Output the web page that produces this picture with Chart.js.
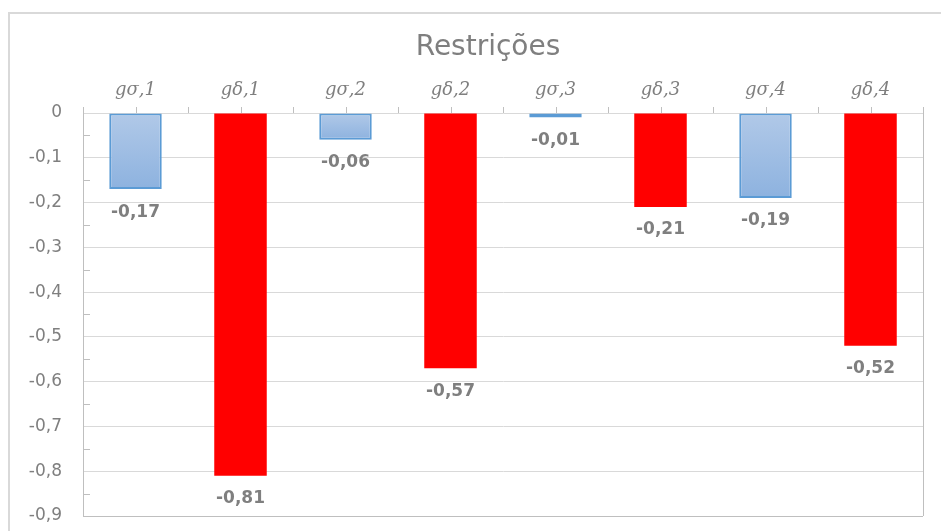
<!DOCTYPE html>
<html>
<head>
<meta charset="utf-8">
<title>Restrições</title>
<script src="https://cdn.jsdelivr.net/npm/chart.js@4"></script>
<style>
  html, body { margin: 0; padding: 0; background: #fff; }
  canvas { display: block; }
</style>
</head>
<body>
<canvas id="chart" width="941" height="531"></canvas>
<script>
// categories along the top axis
const categories = ['gσ,1', 'gδ,1', 'gσ,2', 'gδ,2', 'gσ,3', 'gδ,3', 'gσ,4', 'gδ,4'];
// σ restrictions (blue) and δ restrictions (red)
const sigmaValues = [-0.17, null, -0.06, null, -0.01, null, -0.19, null];
const deltaValues = [null, -0.81, null, -0.57, null, -0.21, null, -0.52];
const yMin = -0.9;
const yMax = 0;
const yStep = 0.1;
const chartTitle = 'Restrições';

const gray = '#7f7f7f';
const axisGray = '#bfbfbf';

const fmt = (v, d) => (v === 0 ? '0' : v.toFixed(d).replace('.', ','));

function blueFill(ctx) {
  const chart = ctx.chart;
  if (!chart.chartArea) return '#9fbfe4';
  const y = chart.scales.y;
  const v = ctx.raw == null ? 0 : ctx.raw;
  const y0 = y.getPixelForValue(0);
  const y1 = y.getPixelForValue(v);
  const g = chart.ctx.createLinearGradient(0, y0, 0, Math.max(y1, y0 + 1));
  g.addColorStop(0, '#b1c9e8');
  g.addColorStop(1, '#8db2df');
  return g;
}

// frame, title, axis tick marks, plot edges and value labels
const extras = {
  id: 'extras',
  beforeDraw(chart) {
    const c = chart.ctx;
    c.save();
    c.strokeStyle = '#d9d9d9';
    c.lineWidth = 2;
    c.strokeRect(9, 13, 960, 560);
    c.fillStyle = gray;
    c.font = '28px "DejaVu Sans"';
    c.textAlign = 'center';
    c.textBaseline = 'alphabetic';
    c.fillText(chartTitle, 488, 55);
    c.restore();
  },
  afterDraw(chart) {
    const c = chart.ctx;
    const area = chart.chartArea;
    const x = chart.scales.x;
    const y = chart.scales.y;
    c.save();
    c.strokeStyle = axisGray;
    c.lineWidth = 1;
    c.beginPath();
    // right and bottom edges
    c.moveTo(Math.round(area.right) + 0.5, area.top);
    c.lineTo(Math.round(area.right) + 0.5, area.bottom);
    c.moveTo(area.left, Math.round(area.bottom) + 0.5);
    c.lineTo(area.right, Math.round(area.bottom) + 0.5);
    // top axis ticks at boundaries and centres
    const half = (x.getPixelForValue(1) - x.getPixelForValue(0)) / 2;
    for (let i = 0; i <= categories.length * 2; i++) {
      const px = Math.round(x.getPixelForValue(0) - half + i * half) + 0.5;
      c.moveTo(px, area.top);
      c.lineTo(px, area.top - 6);
    }
    // minor ticks on the value axis
    for (let v = yMax - yStep / 2; v > yMin; v -= yStep) {
      const py = Math.round(y.getPixelForValue(v)) + 0.5;
      c.moveTo(area.left, py);
      c.lineTo(area.left + 7, py);
    }
    c.stroke();

    // value labels under each bar
    c.fillStyle = gray;
    c.font = 'bold 17px "DejaVu Sans"';
    c.textAlign = 'center';
    c.textBaseline = 'middle';
    chart.data.datasets.forEach((ds, di) => {
      const meta = chart.getDatasetMeta(di);
      meta.data.forEach((bar, i) => {
        const v = ds.data[i];
        if (v == null) return;
        c.fillText(fmt(v, 2), bar.x, bar.y + 23);
      });
    });
    c.restore();
  }
};

new Chart(document.getElementById('chart'), {
  type: 'bar',
  data: {
    labels: categories,
    datasets: [
      {
        label: 'σ',
        data: sigmaValues,
        backgroundColor: blueFill,
        borderColor: '#5b9bd5',
        borderWidth: 2,
        borderSkipped: false
      },
      {
        label: 'δ',
        data: deltaValues,
        backgroundColor: '#ff0000',
        borderWidth: 0
      }
    ]
  },
  options: {
    responsive: false,
    animation: false,
    skipNull: true,
    categoryPercentage: 1,
    barPercentage: 0.5,
    layout: { padding: { left: 0, right: 18, top: 63, bottom: 15 } },
    plugins: {
      legend: { display: false },
      tooltip: { enabled: false },
      title: { display: false }
    },
    scales: {
      x: {
        position: 'top',
        grid: { display: false, drawTicks: false },
        border: { display: false },
        ticks: {
          color: gray,
          padding: 12,
          font: { family: 'DejaVu Serif', style: 'italic', size: 18 }
        },
        afterFit(scale) { scale.height = 50; }
      },
      y: {
        min: yMin,
        max: yMax,
        grid: { color: '#d9d9d9', drawTicks: false },
        border: { display: true, color: axisGray },
        ticks: {
          stepSize: yStep,
          color: gray,
          padding: 21,
          font: { family: 'DejaVu Sans', size: 17 },
          callback: (v) => fmt(v, 1)
        },
        afterFit(scale) {
          scale.width = 83;
          scale.paddingTop = 0;
          scale.paddingBottom = 0;
        }
      }
    }
  },
  plugins: [extras]
});
</script>
</body>
</html>
